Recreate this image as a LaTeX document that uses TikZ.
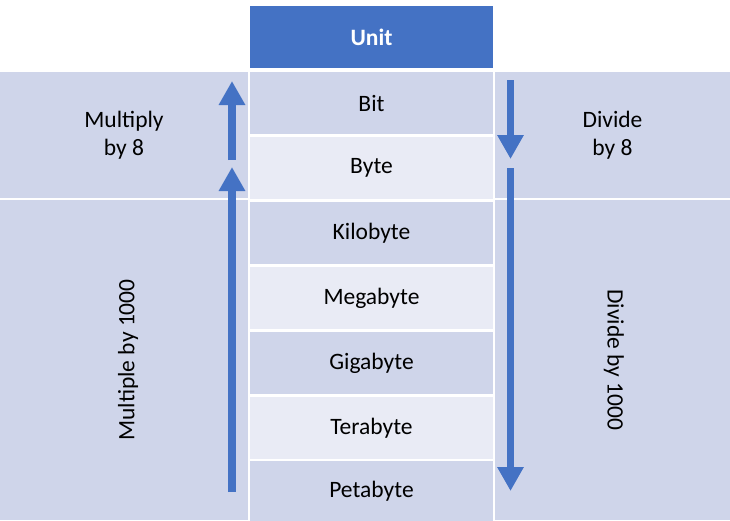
\documentclass[tikz,border=0pt]{standalone}
\usepackage{fontspec}
\setmainfont{Carlito}
\usepackage{tikz}
\usetikzlibrary{arrows.meta}
\definecolor{unitblue}{HTML}{4472C4}
\definecolor{rowdark}{HTML}{CFD5EA}
\definecolor{rowlight}{HTML}{E9EBF5}
\newcommand{\unitfont}{\fontsize{23.5}{28}\selectfont}
\tikzstyle{unit} = [fill=rowdark, minimum width=243pt, minimum height=62pt, inner sep=0pt, font=\unitfont]
\tikzstyle{head} = [unit, fill=unitblue, text=white, font=\unitfont\bfseries]
\tikzstyle{panel} = [fill=rowdark, inner sep=0pt, align=center, font=\unitfont]
\tikzstyle{arrow} = [unitblue, line width=7.5pt, -{Triangle[length=24pt, width=25pt]}]

\begin{document}
\begin{tikzpicture}[x=1pt, y=-1pt]
	\useasboundingbox (0, 0) rectangle (730, 520);

	\node[head](unit) at (371.5, 37){Unit};
	\node[unit](bit) at (371.5, 103){Bit};
	\node[unit, fill=rowlight](byte) at (371.5, 168){Byte};
	\node[unit](kilobyte) at (371.5, 233){Kilobyte};
	\node[unit, fill=rowlight](megabyte) at (371.5, 298){Megabyte};
	\node[unit](gigabyte) at (371.5, 363){Gigabyte};
	\node[unit, fill=rowlight](terabyte) at (371.5, 428){Terabyte};
	\node[unit, minimum height=60pt](petabyte) at (371.5, 491){Petabyte};

	\node[panel, minimum width=248pt, minimum height=126pt](multiply) at (124, 135){Multiply\\by 8};
	\node[panel, minimum width=248pt, minimum height=320pt](multiplyk) at (124, 360){};
	\node[panel, minimum width=235pt, minimum height=126pt](divide) at (612.5, 135){Divide\\by 8};
	\node[panel, minimum width=235pt, minimum height=320pt](dividek) at (612.5, 360){};
	\node[rotate=90, font=\unitfont](multiplyklabel) at (128, 360){Multiple by 1000};
	\node[rotate=-90, font=\unitfont](divideklabel) at (614, 360){Divide by 1000};

	\coordinate(upa) at (232, 160);
	\coordinate(upb) at (232, 81);
	\coordinate(upc) at (232, 492);
	\coordinate(upd) at (232, 167);
	\coordinate(downa) at (510.5, 80);
	\coordinate(downb) at (510.5, 159);
	\coordinate(downc) at (510.5, 168);
	\coordinate(downd) at (510.5, 491);
	\draw[arrow](upa) -- (upb);
	\draw[arrow](upc) -- (upd);
	\draw[arrow](downa) -- (downb);
	\draw[arrow](downc) -- (downd);
\end{tikzpicture}
\end{document}
